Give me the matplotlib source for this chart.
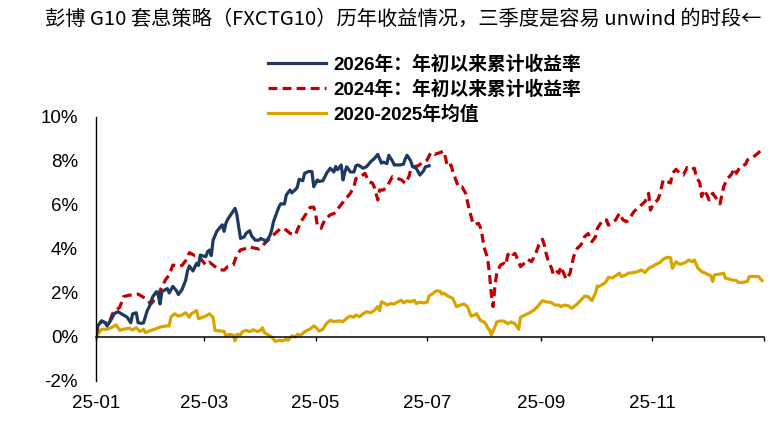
import numpy as np
import matplotlib
matplotlib.use("Agg")
import matplotlib.pyplot as plt
from matplotlib.ticker import FuncFormatter

# ---- data (calendar-day offset from 2025-01-01, cumulative return in %) ----
START_DATE = "2025-01-01"

days_2026 = [0, 1, 3, 5, 6, 8, 10, 12, 15, 17,
             19, 20, 22, 23, 25, 26, 28, 29, 31, 33,
             34, 35, 36, 39, 40, 42, 44, 45, 47, 49,
             50, 51, 53, 55, 56, 57, 60, 61, 62, 63,
             64, 66, 68, 69, 70, 71, 72, 74, 76, 77,
             78, 79, 81, 82, 84, 85, 87, 89, 90, 92,
             93, 95, 96, 97, 99, 100, 101, 103, 104, 106,
             107, 109, 110, 111, 113, 114, 116, 118, 119, 121,
             122, 124, 126, 128, 130, 131, 132, 134, 135, 136,
             137, 139, 141, 142, 143, 144, 146, 148, 150, 152,
             154, 155, 156, 157, 159, 160, 162, 163, 165, 166,
             168, 169, 170, 172, 173, 175, 177, 179, 180, 182]
ret_2026 = [0.0, 0.5, 0.73, 0.65, 0.5, 0.75, 1.06, 1.15, 1.0, 0.9,
            0.65, 1.05, 1.1, 0.65, 0.62, 0.65, 1.2, 1.35, 1.83, 2.06,
            1.9, 1.5, 2.06, 2.2, 2.0, 2.3, 2.1, 1.93, 2.15, 2.58,
            3.0, 3.23, 3.0, 3.35, 3.25, 3.72, 3.65, 3.88, 3.95, 3.7,
            4.4, 4.8, 5.0, 5.1, 4.8, 5.17, 5.35, 5.6, 5.85, 5.55,
            5.0, 4.48, 4.55, 4.71, 4.83, 4.6, 4.4, 4.4, 4.48, 4.4,
            4.33, 4.6, 4.86, 5.24, 5.7, 5.92, 6.05, 6.05, 6.45, 6.68,
            6.55, 6.7, 6.8, 7.17, 7.1, 7.44, 7.52, 7.52, 6.83, 7.14,
            7.07, 7.1, 7.44, 7.67, 7.5, 7.75, 7.6, 7.82, 7.14, 7.5,
            7.74, 7.5, 7.5, 7.78, 7.82, 7.78, 7.67, 7.75, 7.96, 8.1,
            8.3, 8.1, 7.9, 7.95, 7.88, 8.26, 8.0, 7.82, 7.82, 7.82,
            7.85, 8.1, 8.26, 8.0, 7.74, 7.67, 7.36, 7.55, 7.73, 7.78]

days_2024 = [0, 1, 3, 5, 7, 9, 10, 13, 15, 18,
             20, 23, 26, 28, 30, 32, 34, 36, 38, 40,
             42, 44, 47, 50, 51, 54, 55, 57, 60, 62,
             65, 68, 70, 72, 75, 77, 79, 81, 84, 86,
             89, 91, 94, 97, 100, 101, 104, 106, 109, 110,
             112, 115, 117, 119, 120, 121, 123, 125, 128, 131,
             133, 136, 139, 141, 142, 144, 147, 149, 151, 152,
             154, 155, 157, 159, 161, 162, 165, 167, 169, 171,
             172, 174, 176, 178, 180, 181, 183, 185, 188, 190,
             191, 192, 194, 195, 197, 198, 200, 202, 203, 204,
             206, 207, 209, 210, 211, 212, 214, 215, 216, 217,
             218, 219, 221, 223, 224, 225, 227, 228, 229, 231,
             232, 234, 236, 238, 240, 242, 244, 245, 246, 247,
             249, 250, 252, 253, 254, 256, 257, 259, 261, 263,
             265, 267, 269, 271, 273, 274, 277, 279, 280, 282,
             284, 286, 288, 290, 292, 294, 296, 298, 300, 302,
             303, 305, 307, 308, 310, 312, 314, 315, 317, 319,
             321, 323, 325, 327, 328, 330, 331, 332, 334, 335,
             337, 339, 341, 343, 345, 347, 349, 350, 352, 355,
             356, 359, 361, 363]
ret_2024 = [0.0, 0.42, 0.73, 0.65, 0.6, 1.05, 1.15, 1.35, 1.83, 1.9,
            1.9, 1.95, 1.8, 1.68, 1.5, 1.7, 1.9, 2.29, 2.6, 2.82,
            3.27, 3.23, 3.25, 3.58, 3.83, 3.7, 3.7, 3.58, 3.27, 3.4,
            3.2, 3.05, 3.04, 3.2, 3.27, 3.73, 3.96, 4.0, 4.1, 4.05,
            4.0, 4.15, 4.4, 4.64, 4.86, 4.94, 4.86, 4.71, 4.64, 4.86,
            5.24, 5.62, 5.89, 5.9, 5.6, 5.05, 4.94, 5.32, 5.55, 5.65,
            5.92, 6.23, 6.53, 6.83, 7.2, 7.25, 7.44, 7.06, 7.0, 6.83,
            6.23, 6.68, 6.68, 6.83, 7.14, 7.29, 7.2, 7.14, 6.98, 7.29,
            7.59, 7.74, 7.78, 7.9, 7.97, 8.05, 8.39, 8.3, 8.38, 8.45,
            8.15, 7.74, 7.82, 7.52, 7.06, 6.83, 6.83, 6.53, 6.15, 5.77,
            5.17, 5.1, 5.17, 5.0, 4.64, 4.1, 3.58, 2.9, 2.0, 1.38,
            2.29, 2.9, 3.27, 3.35, 3.27, 3.73, 3.88, 3.75, 3.8, 3.42,
            3.2, 3.35, 3.53, 3.42, 3.73, 4.18, 4.44, 4.18, 3.8, 3.5,
            3.12, 2.82, 2.97, 2.9, 3.2, 2.82, 2.62, 2.88, 3.65, 4.03,
            4.18, 4.56, 4.7, 4.33, 4.56, 4.94, 5.32, 5.32, 5.08, 5.2,
            5.32, 5.62, 5.32, 5.24, 5.44, 5.7, 5.85, 6.0, 6.15, 6.53,
            5.77, 6.1, 6.23, 6.45, 7.14, 7.07, 7.0, 7.44, 7.62, 7.44,
            7.36, 7.7, 7.6, 7.67, 7.29, 7.0, 6.38, 6.68, 6.45, 6.23,
            6.53, 6.3, 6.05, 6.83, 7.2, 7.36, 7.67, 7.44, 7.74, 7.85,
            8.05, 8.17, 8.3, 8.45]

days_avg = [0, 1, 3, 6, 9, 11, 13, 15, 18, 20,
            22, 24, 26, 27, 30, 32, 35, 38, 40, 41,
            43, 45, 47, 49, 51, 52, 55, 56, 60, 62,
            64, 65, 68, 70, 71, 73, 75, 76, 77, 79,
            80, 82, 84, 86, 88, 90, 91, 92, 95, 96,
            98, 100, 102, 104, 105, 107, 109, 110, 112, 114,
            117, 119, 120, 122, 124, 126, 128, 130, 133, 135,
            137, 139, 141, 142, 144, 146, 148, 150, 152, 154,
            155, 156, 158, 159, 161, 163, 165, 167, 168, 170,
            172, 174, 175, 177, 179, 181, 182, 184, 186, 188,
            189, 190, 192, 195, 197, 199, 201, 203, 205, 207,
            208, 210, 212, 213, 214, 215, 216, 218, 219, 221,
            223, 225, 227, 229, 231, 232, 235, 237, 239, 241,
            242, 244, 246, 248, 249, 251, 253, 254, 256, 258,
            260, 263, 265, 267, 269, 271, 273, 274, 275, 278,
            279, 280, 282, 284, 286, 287, 289, 291, 294, 296,
            298, 300, 302, 304, 306, 308, 310, 312, 314, 315,
            317, 319, 322, 324, 326, 327, 329, 331, 333, 336,
            337, 338, 341, 343, 344, 347, 350, 351, 353, 356,
            357, 360, 362, 364]
ret_avg = [0.0, 0.12, 0.35, 0.35, 0.45, 0.55, 0.3, 0.35, 0.4, 0.32,
           0.42, 0.25, 0.35, 0.2, 0.3, 0.35, 0.45, 0.5, 0.5, 0.92,
           1.05, 0.95, 1.0, 1.1, 0.9, 1.05, 1.2, 0.83, 0.95, 1.05,
           0.9, 0.3, 0.27, 0.25, 0.05, 0.12, 0.08, -0.18, 0.12, 0.1,
           0.24, 0.3, 0.24, 0.33, 0.25, 0.3, 0.42, 0.2, 0.05, 0.0,
           -0.2, -0.15, -0.18, -0.1, -0.15, 0.05, 0.0, 0.12, 0.08, 0.24,
           0.36, 0.5, 0.45, 0.27, 0.35, 0.62, 0.76, 0.7, 0.73, 0.7,
           0.85, 0.95, 0.9, 1.0, 0.92, 1.06, 1.15, 1.1, 1.2, 1.38,
           1.2, 1.6, 1.52, 1.45, 1.52, 1.5, 1.6, 1.67, 1.55, 1.64,
           1.6, 1.67, 1.52, 1.58, 1.55, 1.58, 1.86, 1.97, 2.1, 2.08,
           1.95, 2.0, 1.87, 1.75, 1.38, 1.45, 1.5, 1.38, 0.95, 1.0,
           1.06, 0.76, 0.68, 0.6, 0.42, 0.33, 0.1, 0.45, 0.68, 0.73,
           0.72, 0.6, 0.68, 0.6, 0.35, 0.9, 1.02, 1.1, 1.2, 1.35,
           1.45, 1.65, 1.6, 1.58, 1.55, 1.45, 1.45, 1.38, 1.45, 1.42,
           1.3, 1.5, 1.68, 1.86, 1.83, 1.65, 2.0, 2.32, 2.3, 2.45,
           2.55, 2.71, 2.68, 2.78, 2.9, 2.75, 2.8, 2.9, 2.93, 2.97,
           3.05, 2.93, 3.12, 3.2, 3.3, 3.38, 3.53, 3.62, 3.6, 3.12,
           3.42, 3.3, 3.38, 3.5, 3.42, 3.5, 3.12, 2.97, 2.9, 2.78,
           2.52, 2.82, 2.86, 2.9, 2.68, 2.6, 2.56, 2.48, 2.48, 2.52,
           2.75, 2.75, 2.75, 2.56]

labels = ["2026年：年初以来累计收益率", "2024年：年初以来累计收益率", "2020-2025年均值"]
tick_months = ["2025-01", "2025-03", "2025-05", "2025-07", "2025-09", "2025-11", "2026-01"]
tick_labels = ["25-01", "25-03", "25-05", "25-07", "25-09", "25-11", ""]
title = "彭博 G10 套息策略（FXCTG10）历年收益情况，三季度是容易 unwind 的时段←"

COLORS = {"2026": "#1F3A60", "2024": "#C00000", "avg": "#D9A400"}


def to_dates(days):
    return np.datetime64(START_DATE) + np.array(days, dtype="timedelta64[D]")


plt.rcParams["font.family"] = ["Liberation Sans", "Noto Sans CJK SC", "DejaVu Sans"]

fig = plt.figure(figsize=(7.83, 4.22), dpi=100)
ax = fig.add_axes([0.1226, 0.0972, 0.853, 0.6256])

l24, = ax.plot(to_dates(days_2024), ret_2024, color=COLORS["2024"], lw=2.3,
               dashes=(2.8, 1.6), label=labels[1])
lav, = ax.plot(to_dates(days_avg), ret_avg, color=COLORS["avg"], lw=2.3, label=labels[2])
l26, = ax.plot(to_dates(days_2026), ret_2026, color=COLORS["2026"], lw=2.3, label=labels[0])

ax.set_ylim(-2, 10)
ax.set_yticks(np.arange(-2, 11, 2))
ax.yaxis.set_major_formatter(FuncFormatter(lambda v, _: f"{v:.0f}%"))
ax.set_xlim(np.datetime64("2025-01-01"), np.datetime64("2026-01-01"))
ax.set_xticks([np.datetime64(m + "-01") for m in tick_months])
ax.set_xticklabels(tick_labels)

for side in ["top", "right"]:
    ax.spines[side].set_visible(False)
ax.spines["bottom"].set_position(("data", 0))
ax.spines["bottom"].set_linewidth(1.1)
ax.spines["left"].set_linewidth(1.0)

ax.tick_params(axis="y", length=0, pad=13, labelsize=13.5)
ax.tick_params(axis="x", length=3, width=1.0, direction="out", pad=39, labelsize=13.5)

leg = fig.legend(handles=[l26, l24, lav], loc="upper left",
                 bbox_to_anchor=(268 / 783, 1 - 55 / 422), frameon=False,
                 prop={"size": 13.5, "weight": "bold"}, handlelength=3.1,
                 handletextpad=0.4, labelspacing=0.36, borderpad=0, borderaxespad=0)

fig.text(45 / 783, 1 - 19 / 422, title, fontsize=14.6, va="center", ha="left",
         family=["Noto Sans CJK SC", "DejaVu Sans"])

fig.savefig("out.png", dpi=100)
